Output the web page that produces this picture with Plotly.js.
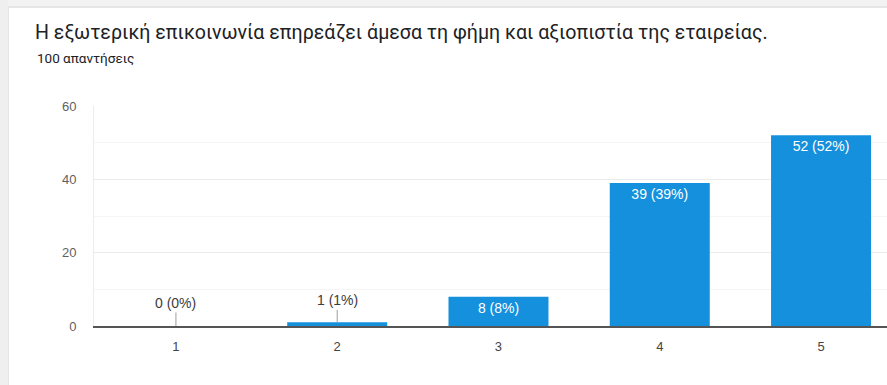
<!DOCTYPE html>
<html>
<head>
<meta charset="utf-8">
<script src="https://cdn.plot.ly/plotly-3.0.1.min.js"></script>
<style>
  html, body { margin: 0; padding: 0; background: #ffffff; overflow: hidden; }
  #chart { position: absolute; left: 0; top: 0; width: 887px; height: 385px; }
  #topStrip { position: absolute; left: 0; top: 0; width: 887px; height: 6px; background: #f2f2f2; z-index: 10; }
  #topLine { position: absolute; left: 0; top: 6px; width: 887px; height: 2px; background: #e6e6e6; z-index: 10; }
  #leftStrip { position: absolute; left: 0; top: 0; width: 8px; height: 385px; background: #efefef; z-index: 11; }
  #leftLine { position: absolute; left: 8px; top: 8px; width: 1px; height: 377px; background: #e4e4e4; z-index: 11; }
</style>
</head>
<body>
<div id="chart"></div>
<div id="topStrip"></div><div id="topLine"></div>
<div id="leftStrip"></div><div id="leftLine"></div>
<script>
const categories = ["1", "2", "3", "4", "5"];
const counts = [0, 1, 8, 39, 52];
const percents = [0, 1, 8, 39, 52];
const titleText = "Η εξωτερική επικοινωνία επηρεάζει άμεσα τη φήμη και αξιοπιστία της εταιρείας.";
const subtitleText = "100 απαντήσεις";
const yTicks = [0, 20, 40, 60];

const labels = counts.map((c, i) => c + " (" + percents[i] + "%)");
const smallThreshold = 5;
const textPos = counts.map(c => c < smallThreshold ? "none" : "inside");

const trace = {
  type: "bar",
  x: categories,
  y: counts,
  text: labels,
  textposition: textPos,
  insidetextanchor: "end",
  textangle: 0,
  textfont: { family: "Liberation Sans, Arial, sans-serif", size: 14, color: "#ffffff" },
  marker: { color: "#1590dc" },
  width: 0.62,
  hoverinfo: "none",
  cliponaxis: false
};

const annotations = [];
counts.forEach((c, i) => {
  if (c < smallThreshold) {
    annotations.push({
      x: i, y: c, xref: "x", yref: "y",
      text: labels[i], showarrow: true, arrowhead: 0, arrowwidth: 1,
      arrowcolor: "#9e9e9e", ax: 0, ay: -23 + c,
      font: { family: "Liberation Sans, Arial, sans-serif", size: 14, color: "#3c3c3c" }
    });
  }
});
annotations.push({
  xref: "paper", yref: "paper", x: (35 - 94) / 793, y: (326 - 58) / 220,
  xanchor: "left", yanchor: "middle", showarrow: false, text: subtitleText,
  font: { family: "Roboto, sans-serif", size: 13.5, color: "#202124" }
});

const layout = {
  width: 887, height: 385,
  margin: { l: 94, r: 0, t: 106, b: 59, pad: 0 },
  paper_bgcolor: "#ffffff", plot_bgcolor: "#ffffff",
  title: {
    text: titleText, xref: "container", yref: "container",
    x: 35 / 887, xanchor: "left", y: 1 - 32 / 385, yanchor: "middle",
    font: { family: "Roboto, sans-serif", size: 19.6, color: "#202124" }
  },
  showlegend: false,
  bargap: 0.38,
  xaxis: {
    type: "category",
    range: [-0.508, 4.409],
    showgrid: false, zeroline: false,
    showline: true, linecolor: "#555555", linewidth: 1.5,
    ticks: "", ticklabelstandoff: 8,
    tickfont: { family: "Liberation Sans, Arial, sans-serif", size: 13, color: "#444444" },
    fixedrange: true
  },
  yaxis: {
    range: [0, 60],
    tickvals: yTicks, ticktext: yTicks.map(String),
    showgrid: true, gridcolor: "#ebebeb", gridwidth: 1,
    minor: { dtick: 10, tick0: 0, showgrid: true, gridcolor: "#f5f5f5", gridwidth: 1, ticks: "" },
    zeroline: false,
    showline: true, linecolor: "#ececec", linewidth: 1,
    ticks: "", ticklabelstandoff: 14,
    tickfont: { family: "Liberation Sans, Arial, sans-serif", size: 13, color: "#5f5f5f" },
    fixedrange: true
  },
  annotations: annotations
};

Plotly.newPlot("chart", [trace], layout, { displayModeBar: false, staticPlot: true });
</script>
</body>
</html>
